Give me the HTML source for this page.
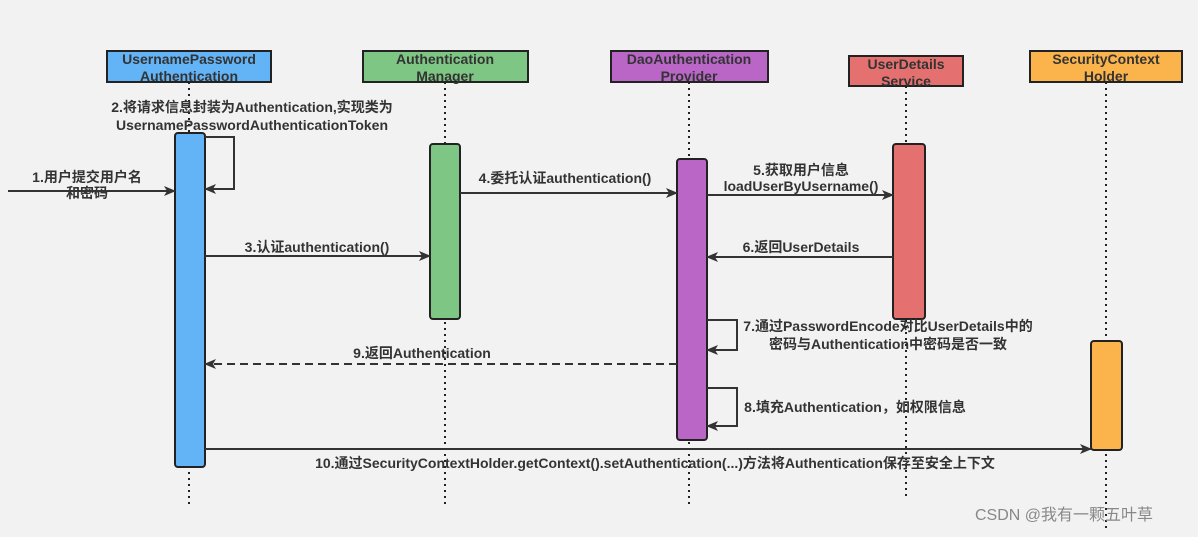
<!DOCTYPE html>
<html><head><meta charset="utf-8"><style>
body{margin:0;width:1198px;height:532px;background:#f2f2f2;overflow:hidden}
svg text{font-family:"Liberation Sans","Noto Sans CJK SC",sans-serif;font-weight:bold;font-size:14px;fill:#333}
</style></head><body>
<svg width="1198" height="532" viewBox="0 0 1198 532" xmlns="http://www.w3.org/2000/svg">
<defs><marker id="a" markerWidth="12" markerHeight="10" refX="11" refY="5" orient="auto" markerUnits="userSpaceOnUse"><path d="M0,0 L12,5 L0,10 L3,5 z" fill="#333"/></marker></defs>
<g stroke="#222" stroke-width="2" stroke-dasharray="2,4" fill="none">
<line x1="189" y1="82" x2="189" y2="505"/><line x1="445" y1="82" x2="445" y2="505"/>
<line x1="689" y1="82" x2="689" y2="505"/><line x1="906" y1="86" x2="906" y2="498"/>
<line x1="1106" y1="82" x2="1106" y2="532"/>
</g>
<g stroke="#222" stroke-width="2">
<rect x="107" y="51" width="164" height="31" fill="#62b4f7"/>
<rect x="363" y="51" width="165" height="31" fill="#7ec683"/>
<rect x="611" y="51" width="157" height="31" fill="#b966c7"/>
<rect x="849" y="56" width="114" height="30" fill="#e57070"/>
<rect x="1030" y="51" width="152" height="31" fill="#fbb34c"/>
<rect x="175" y="133" width="30" height="334" rx="3" fill="#62b4f7"/>
<rect x="430" y="144" width="30" height="175" rx="3" fill="#7ec683"/>
<rect x="677" y="159" width="30" height="281" rx="3" fill="#b966c7"/>
<rect x="893" y="144" width="32" height="175" rx="3" fill="#e57070"/>
<rect x="1091" y="341" width="31" height="109" rx="3" fill="#fbb34c"/>
</g>
<g text-anchor="middle">
<text x="189" y="64">UsernamePassword</text><text x="189" y="81">Authentication</text>
<text x="445" y="64">Authentication</text><text x="445" y="81">Manager</text>
<text x="689" y="64">DaoAuthentication</text><text x="689" y="81">Provider</text>
<text x="906" y="69">UserDetails</text><text x="906" y="86">Service</text>
<text x="1106" y="64">SecurityContext</text><text x="1106" y="81">Holder</text>
</g>
<g stroke="#333" stroke-width="2" fill="none" marker-end="url(#a)">
<line x1="8" y1="191" x2="175" y2="191"/>
<polyline points="205,137 234,137 234,189 205,189"/>
<line x1="205" y1="256" x2="430" y2="256"/>
<line x1="460" y1="193" x2="677" y2="193"/>
<line x1="707" y1="195" x2="893" y2="195"/>
<line x1="893" y1="257" x2="707" y2="257"/>
<polyline points="707,320 737,320 737,350 707,350"/>
<line x1="677" y1="364" x2="205" y2="364" stroke-dasharray="8,5"/>
<polyline points="707,388 737,388 737,426 707,426"/>
<line x1="205" y1="449" x2="1091" y2="449"/>
</g>
<g text-anchor="middle">
<text x="252" y="112">2.将请求信息封装为Authentication,实现类为</text>
<text x="252" y="130">UsernamePasswordAuthenticationToken</text>
<text x="87" y="182">1.用户提交用户名</text><text x="87" y="198">和密码</text>
<text x="317" y="252">3.认证authentication()</text>
<text x="565" y="183">4.委托认证authentication()</text>
<text x="801" y="175">5.获取用户信息</text><text x="801" y="191">loadUserByUsername()</text>
<text x="801" y="252">6.返回UserDetails</text>
<text x="888" y="331">7.通过PasswordEncode对比UserDetails中的</text>
<text x="888" y="349">密码与Authentication中密码是否一致</text>
<text x="422" y="358">9.返回Authentication</text>
<text x="855" y="412">8.填充Authentication，如权限信息</text>
<text x="655" y="468">10.通过SecurityContextHolder.getContext().setAuthentication(...)方法将Authentication保存至安全上下文</text>
</g>
<text x="975" y="520" style="font-weight:normal;font-size:16px;fill:#888">CSDN @我有一颗五叶草</text>
</svg>
</body></html>
